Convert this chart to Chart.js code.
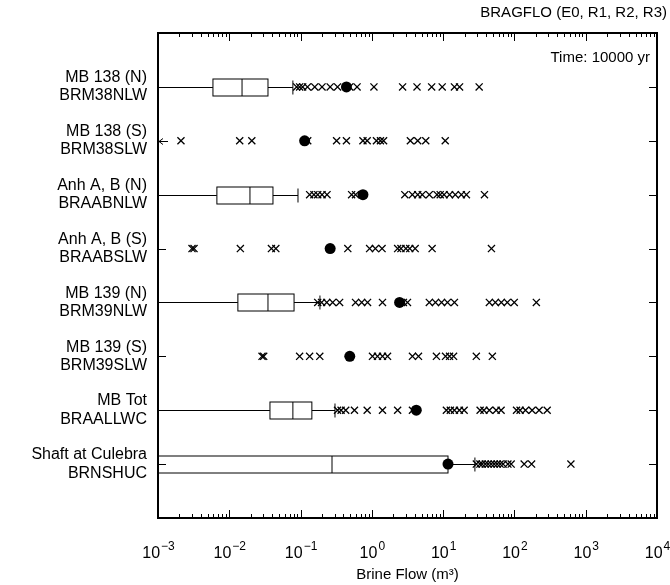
<!DOCTYPE html>
<html>
<head>
<meta charset="utf-8">
<script src="https://cdn.jsdelivr.net/npm/chart.js@4.4.1/dist/chart.umd.min.js"></script>
<style>
  body { margin: 0; background: #fff; }
  #wrap { width: 670px; height: 585px; }
</style>
</head>
<body>
<div id="wrap"><canvas id="chart"></canvas></div>
<script>
// Categories (top to bottom)
const categories = [
    ['MB 138 (N)', 'BRM38NLW'],
    ['MB 138 (S)', 'BRM38SLW'],
    ['Anh A, B (N)', 'BRAABNLW'],
    ['Anh A, B (S)', 'BRAABSLW'],
    ['MB 139 (N)', 'BRM39NLW'],
    ['MB 139 (S)', 'BRM39SLW'],
    ['MB Tot', 'BRAALLWC'],
    ['Shaft at Culebra', 'BRNSHUC']
];

// Box plot statistics (null = no box drawn)
const boxMin    = [0.001, null, 0.001, null, 0.001, null, 0.001, 0.0003];
const boxQ1     = [0.0059, null, 0.0067, null, 0.0132, null, 0.0372, 0.0004];
const boxMedian = [0.0151, null, 0.0195, null, 0.0349, null, 0.078, 0.276];
const boxQ3     = [0.0349, null, 0.041, null, 0.081, null, 0.144, 11.7];
const boxMax    = [0.078, null, 0.092, null, 0.187, null, 0.304, 27.9];

// Mean values (filled circles)
const means = [0.44, 0.114, 0.75, 0.26, 2.45, 0.49, 4.2, 11.7];

// Values below the axis minimum (shown as arrow at left edge)
const belowRange = [false, true, false, false, false, false, false, false];

// Outliers (crosses)
const outliers = [
    [0.088, 0.097, 0.107, 0.125, 0.158, 0.2, 0.26, 0.33, 0.49, 0.62, 1.07, 2.7, 4.3, 6.9, 9.7, 14.4, 17, 32],
    [0.0021, 0.014, 0.0207, 0.126, 0.32, 0.44, 0.75, 0.86, 1.16, 1.32, 1.46, 3.47, 4.4, 5.7, 10.7],
    [0.134, 0.154, 0.174, 0.2, 0.235, 0.52, 0.59, 0.75, 2.9, 3.7, 4.4, 5.1, 6.4, 8.2, 9.1, 10.3, 12.3, 14.8, 18, 21.2, 38],
    [0.003, 0.0032, 0.0143, 0.039, 0.045, 0.26, 0.46, 0.93, 1.12, 1.39, 2.3, 2.56, 3.0, 3.4, 4.05, 7.0, 47.6],
    [0.174, 0.197, 0.233, 0.282, 0.353, 0.59, 0.72, 0.87, 1.41, 2.77, 3.16, 6.4, 7.8, 9.5, 11.5, 14.4, 44.5, 54, 65.5, 79.5, 99.5, 203],
    [0.0288, 0.0304, 0.097, 0.134, 0.186, 1.02, 1.2, 1.41, 1.66, 3.71, 4.51, 8.05, 10.8, 12.3, 14, 29.2, 49],
    [0.33, 0.37, 0.43, 0.57, 0.86, 1.41, 2.3, 3.71, 11.1, 12.6, 14.4, 16.9, 19.7, 33, 37.3, 44.5, 55.5, 65, 107, 120, 143, 177, 222, 288],
    [29.2, 32.8, 35.2, 39, 42.7, 47.1, 52, 57.2, 63, 69.3, 81, 90, 137, 174, 620]
];

// Axis ticks (decade exponents)
const xTickExps = [-3, -2, -1, 0, 1, 2, 3, 4];

const FONT = 'Liberation Sans, Arial, Helvetica, sans-serif';

// build scatter data from the arrays
const outlierPoints = [];
outliers.forEach((row, i) => {
    row.forEach(v => outlierPoints.push({ x: v, y: i + 1 }));
});
const meanPoints = means.map((v, i) => ({ x: v, y: i + 1 }));

// Draws the boxes, whiskers and off-scale arrows
const boxPlugin = {
    id: 'boxes',
    beforeDatasetsDraw(chart) {
        const ctx = chart.ctx;
        const xs = chart.scales.x;
        const ys = chart.scales.y;
        const area = chart.chartArea;
        ctx.save();
        ctx.beginPath();
        ctx.rect(area.left, area.top, area.right - area.left, area.bottom - area.top);
        ctx.clip();
        ctx.strokeStyle = '#000';
        ctx.lineWidth = 1;
        categories.forEach((c, i) => {
            const y = Math.round(ys.getPixelForValue(i + 1)) + 0.5;
            if (boxQ1[i] !== null) {
                const pMin = xs.getPixelForValue(boxMin[i]);
                const pQ1 = xs.getPixelForValue(boxQ1[i]);
                const pMed = xs.getPixelForValue(boxMedian[i]);
                const pQ3 = xs.getPixelForValue(boxQ3[i]);
                const pMax = xs.getPixelForValue(boxMax[i]);
                const h = 8.5;
                ctx.beginPath();
                ctx.moveTo(pMin, y); ctx.lineTo(pQ1, y);
                ctx.moveTo(pQ3, y); ctx.lineTo(pMax, y);
                // cap at the upper whisker
                ctx.moveTo(pMax, y - 7); ctx.lineTo(pMax, y + 7);
                ctx.stroke();
                ctx.fillStyle = '#fff';
                ctx.fillRect(pQ1, y - h, pQ3 - pQ1, 2 * h);
                ctx.strokeRect(pQ1, y - h, pQ3 - pQ1, 2 * h);
                ctx.beginPath();
                ctx.moveTo(pMed, y - h); ctx.lineTo(pMed, y + h);
                ctx.stroke();
            }
            if (belowRange[i]) {
                const px = area.left + 1;
                ctx.beginPath();
                ctx.moveTo(px, y); ctx.lineTo(px + 9, y);
                ctx.moveTo(px + 4, y - 3); ctx.lineTo(px, y); ctx.lineTo(px + 4, y + 3);
                ctx.stroke();
            }
        });
        ctx.restore();
    }
};

// Frame, inward ticks, tick labels and titles
const framePlugin = {
    id: 'frame',
    afterDraw(chart) {
        const ctx = chart.ctx;
        const xs = chart.scales.x;
        const ys = chart.scales.y;
        const a = chart.chartArea;
        ctx.save();
        ctx.strokeStyle = '#000';
        ctx.fillStyle = '#000';

        // x ticks, top and bottom, pointing inward
        ctx.lineWidth = 1;
        ctx.beginPath();
        xTickExps.forEach((e, k) => {
            const px = Math.round(xs.getPixelForValue(Math.pow(10, e))) + 0.5;
            ctx.moveTo(px, a.bottom); ctx.lineTo(px, a.bottom - 8);
            ctx.moveTo(px, a.top); ctx.lineTo(px, a.top + 8);
            if (k < xTickExps.length - 1) {
                for (let m = 2; m <= 9; m++) {
                    const pm = Math.round(xs.getPixelForValue(m * Math.pow(10, e))) + 0.5;
                    ctx.moveTo(pm, a.bottom); ctx.lineTo(pm, a.bottom - 4);
                    ctx.moveTo(pm, a.top); ctx.lineTo(pm, a.top + 4);
                }
            }
        });
        // y ticks at categories, left and right
        categories.forEach((c, i) => {
            const py = Math.round(ys.getPixelForValue(i + 1)) + 0.5;
            ctx.moveTo(a.left, py); ctx.lineTo(a.left + 8, py);
            ctx.moveTo(a.right, py); ctx.lineTo(a.right - 8, py);
        });
        ctx.stroke();

        // frame
        ctx.lineWidth = 2;
        ctx.strokeRect(a.left, a.top, a.right - a.left, a.bottom - a.top);

        // x tick labels with superscript exponents
        xTickExps.forEach(e => {
            const px = xs.getPixelForValue(Math.pow(10, e));
            const exp = e < 0 ? '\u2212' + Math.abs(e) : String(e);
            ctx.font = '16px ' + FONT;
            const wBase = ctx.measureText('10').width;
            ctx.font = '12px ' + FONT;
            const wExp = ctx.measureText(exp).width;
            const x0 = px - (wBase + wExp) / 2;
            ctx.textAlign = 'left';
            ctx.textBaseline = 'alphabetic';
            ctx.font = '16px ' + FONT;
            ctx.fillText('10', x0, 558);
            ctx.font = '12px ' + FONT;
            ctx.fillText(exp, x0 + wBase + 1, 550);
        });

        // axis title
        ctx.font = '15px ' + FONT;
        ctx.textAlign = 'center';
        ctx.textBaseline = 'middle';
        ctx.fillText('Brine Flow (m\u00B3)', (a.left + a.right) / 2, 575);

        // titles
        ctx.textAlign = 'right';
        ctx.font = '15px ' + FONT;
        ctx.fillText('BRAGFLO (E0, R1, R2, R3)', 667, 13);
        ctx.fillText('Time: 10000 yr', 650, 58);
        ctx.restore();
    }
};

const ctx = document.getElementById('chart').getContext('2d');
const chart = new Chart(ctx, {
    type: 'scatter',
    data: {
        datasets: [
            {
                label: 'Outliers',
                data: outlierPoints,
                pointStyle: 'crossRot',
                pointRadius: 5,
                borderColor: '#000',
                borderWidth: 1.3
            },
            {
                label: 'Mean',
                data: meanPoints,
                pointStyle: 'circle',
                pointRadius: 5.5,
                backgroundColor: '#000',
                borderColor: '#000',
                borderWidth: 0
            }
        ]
    },
    options: {
        responsive: true,
        maintainAspectRatio: false,
        animation: false,
        layout: { padding: { top: 33, right: 13, bottom: 0, left: 0 } },
        plugins: {
            legend: { display: false },
            tooltip: { enabled: false }
        },
        scales: {
            x: {
                type: 'logarithmic',
                position: 'bottom',
                min: 0.001,
                max: 10000,
                grid: { display: false, drawTicks: false },
                border: { display: false },
                ticks: { display: false },
                afterFit: function(scale) { scale.height = 67; }
            },
            y: {
                type: 'linear',
                min: 0,
                max: 9,
                reverse: true,
                grid: { display: false, drawTicks: false },
                border: { display: false },
                ticks: {
                    stepSize: 1,
                    padding: 11,
                    color: '#000',
                    font: { family: FONT, size: 16, lineHeight: 1.15 },
                    callback: function(value) {
                        return categories[value - 1] || '';
                    }
                },
                afterFit: function(scale) { scale.width = 158; }
            }
        }
    },
    plugins: [boxPlugin, framePlugin]
});
</script>
</body>
</html>
